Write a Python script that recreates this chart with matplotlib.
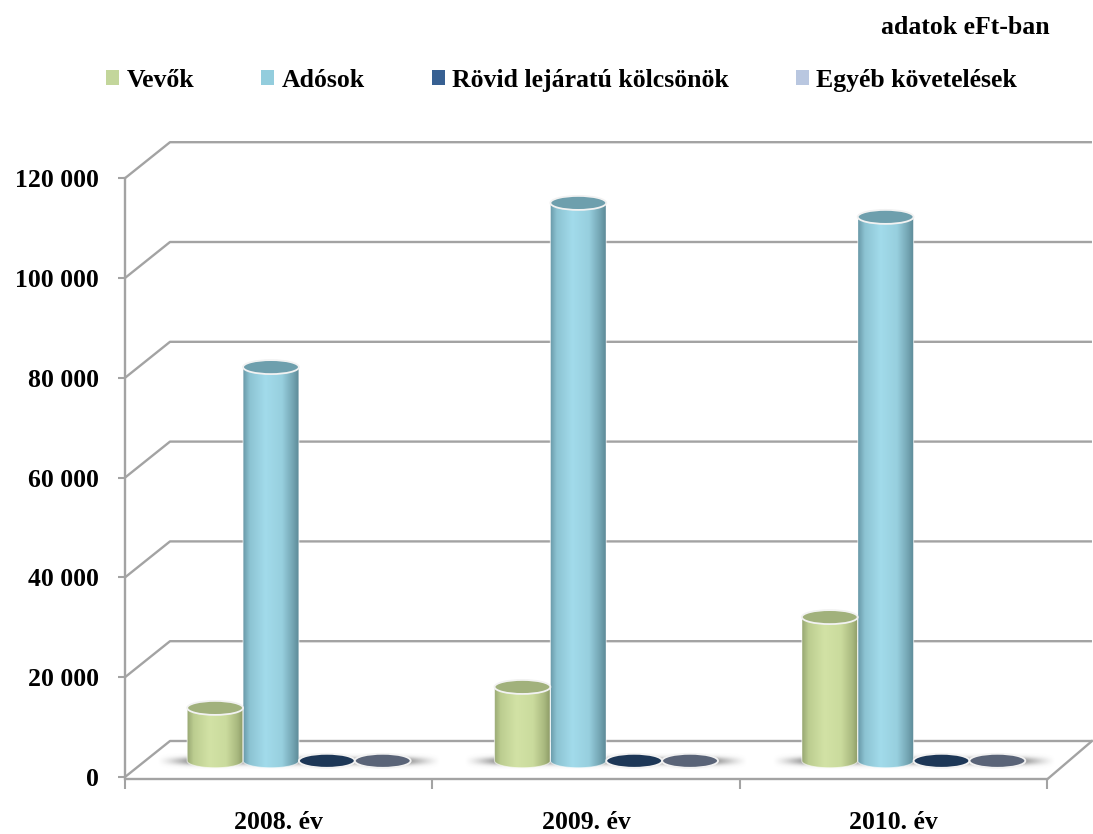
import numpy as np
import matplotlib
matplotlib.use("Agg")
import matplotlib.pyplot as plt
from matplotlib.path import Path
from matplotlib.patches import PathPatch, Ellipse, Patch
from matplotlib.colors import LinearSegmentedColormap

# ---- data (eFt) ----
years = ["2008. év", "2009. év", "2010. év"]
series_names = ["Vevők", "Adósok", "Rövid lejáratú kölcsönök", "Egyéb követelések"]
vevok = [10600, 14800, 28800]
adosok = [78900, 111800, 109000]
rovid = [0, 0, 0]
egyeb = [0, 0, 0]
y_ticks = [0, 20000, 40000, 60000, 80000, 100000, 120000]

values = [vevok, adosok, rovid, egyeb]

# ---- styling ----
legend_colors = ["#C3D69B", "#93CDDD", "#376092", "#B9C7E0"]
body_stops = [
    ["#97A772", "#BCCD90", "#D2E2A5", "#CADB9D", "#A9B97F", "#8E9D68"],
    ["#6898A7", "#8CC3D2", "#A2DBEB", "#97CFDE", "#72A3B1", "#5D8A97"],
    ["#16304F", "#1E3A5C", "#24446A", "#1F3B5E", "#1A3353", "#142A45"],
    ["#505A6E", "#5E687C", "#6A7488", "#646E82", "#586276", "#4C5568"],
]
top_colors = ["#A1B17C", "#6E9FAD", "#1D3757", "#5A6478"]
grid_color = "#A3A3A3"

plt.rcParams["font.family"] = ["Liberation Serif", "DejaVu Serif"]
plt.rcParams["font.weight"] = "bold"
FS = 18.5

W, H, DPI = 1093, 834, 100
fig = plt.figure(figsize=(W / DPI, H / DPI), dpi=DPI)
fig.patch.set_facecolor("white")

# axes geometry in pixels
ax_left_px, ax_bottom_px, zero_px = 125, 800, 777
px_per_cat = 307.33
px_per_val = 4.99 / 1000.0
ax = fig.add_axes([ax_left_px / W, (H - ax_bottom_px) / H,
                   (W - ax_left_px) / W, ax_bottom_px / H])
ax.set_facecolor("none")

xmax = (W - ax_left_px) / px_per_cat
ymin = -(ax_bottom_px - zero_px) / px_per_val
ymax = zero_px / px_per_val

# oblique depth offset of the back wall
DX = 45 / px_per_cat
DY = 36 / px_per_val
ncat = len(years)

# ---- walls and floor ----
for v in y_ticks:
    ax.plot([0, DX, ncat + DX], [v, v + DY, v + DY], color=grid_color,
            lw=1.7, solid_capstyle="butt", zorder=1)
ax.plot([ncat, ncat + DX], [-500, DY], color=grid_color, lw=1.7, zorder=1)

# ---- bars as cylinders ----
nser = len(series_names)
bar_w = 1.0 / (nser + 1.5)
ell_h = 14 / px_per_val
depth_frac = 0.45


def gradient_cmap(stops):
    return LinearSegmentedColormap.from_list(
        "g", list(zip([0, 0.12, 0.4, 0.7, 0.9, 1.0], stops)))


def soft_shadow(xl, xr, yc):
    pad = 30 / px_per_cat
    nx, ny = 200, 30
    xs = np.linspace(xl - pad, xr + pad, nx)
    ys = np.linspace(-1, 1, ny)
    fade = np.clip(np.minimum(xs - (xl - pad), (xr + pad) - xs) / pad, 0, 1) ** 1.3
    vert = np.exp(-(ys / 0.5) ** 2)
    alpha = 0.65 * vert[:, None] * fade[None, :]
    rgba = np.zeros((ny, nx, 4))
    rgba[..., :3] = 0.42
    rgba[..., 3] = alpha
    half = 8 / px_per_val
    ax.imshow(rgba, extent=[xl - pad, xr + pad, yc - half, yc + half],
              aspect="auto", origin="lower", interpolation="bilinear", zorder=2)


def cylinder(xc, y0, h, cmap, top_color, z):
    xl, xr = xc - bar_w / 2, xc + bar_w / 2
    t = np.linspace(np.pi, 2 * np.pi, 60)
    bx = xc + bar_w / 2 * np.cos(t)
    by = y0 + ell_h / 2 * np.sin(t)
    verts = [(xl, y0 + h)] + list(zip(bx, by)) + [(xr, y0 + h), (xl, y0 + h)]
    codes = [Path.MOVETO] + [Path.LINETO] * (len(verts) - 2) + [Path.CLOSEPOLY]
    clip = PathPatch(Path(verts, codes), facecolor="none", edgecolor="none",
                     transform=ax.transData)
    ax.add_patch(clip)
    grad = np.linspace(0, 1, 256)[None, :]
    im = ax.imshow(grad, cmap=cmap, extent=[xl, xr, y0 - ell_h / 2, y0 + h],
                   aspect="auto", interpolation="bilinear", zorder=z)
    im.set_clip_path(clip)
    ax.add_patch(PathPatch(Path(verts, codes), facecolor="none",
                           edgecolor="white", lw=0.8, alpha=0.6, zorder=z + 0.05))
    ax.add_patch(Ellipse((xc, y0 + h), bar_w, ell_h, facecolor=top_color,
                         edgecolor="#F2F2F2", lw=1.3, zorder=z + 0.1))


base_y = depth_frac * DY
for c in range(ncat):
    centers = [c + 0.5 + (k - (nser - 1) / 2) * bar_w + depth_frac * DX
               for k in range(nser)]
    soft_shadow(centers[0] - bar_w / 2, centers[-1] + bar_w / 2, base_y)
    for k in range(nser):
        cylinder(centers[k], base_y, values[k][c], gradient_cmap(body_stops[k]),
                 top_colors[k], z=3 + k * 0.01)

# ---- axes, ticks and labels ----
ax.set_xlim(0, xmax)
ax.set_ylim(ymin, ymax)
for s in ["top", "right"]:
    ax.spines[s].set_visible(False)
ax.spines["left"].set_bounds(0, y_ticks[-1])
ax.spines["left"].set_color(grid_color)
ax.spines["left"].set_linewidth(1.7)
ax.spines["bottom"].set_position(("data", -500))
ax.spines["bottom"].set_bounds(0, ncat)
ax.spines["bottom"].set_color(grid_color)
ax.spines["bottom"].set_linewidth(1.7)

ax.set_yticks(y_ticks)
ax.set_yticklabels([f"{v:,}".replace(",", " ") for v in y_ticks])
ax.tick_params(axis="y", length=5, width=1.5, color=grid_color, pad=14,
               labelsize=FS)
ax.set_xticks(range(ncat + 1))
ax.set_xticklabels([])
ax.set_xticks([c + 0.5 for c in range(ncat)], minor=True)
ax.set_xticklabels(years, minor=True)
ax.tick_params(axis="x", which="major", length=7, width=1.5, color=grid_color)
ax.tick_params(axis="x", which="minor", length=0, pad=23, labelsize=FS)
for lab in ax.get_yticklabels() + ax.get_xticklabels(minor=True):
    lab.set_fontweight("bold")

# ---- legend and unit note ----
handles = [Patch(facecolor=col, edgecolor="none") for col in legend_colors]
fig.legend(handles, series_names, loc="center", bbox_to_anchor=(0.514, 0.904),
           ncol=nser, frameon=False, handlelength=0.5, handleheight=0.55,
           handletextpad=0.3, columnspacing=2.6,
           prop={"size": FS, "weight": "bold"})
fig.text(1050 / W, 1 - 28 / H, "adatok eFt-ban", ha="right", va="center",
         fontsize=FS, fontweight="bold")

fig.savefig("out.png", dpi=DPI, facecolor="white")
